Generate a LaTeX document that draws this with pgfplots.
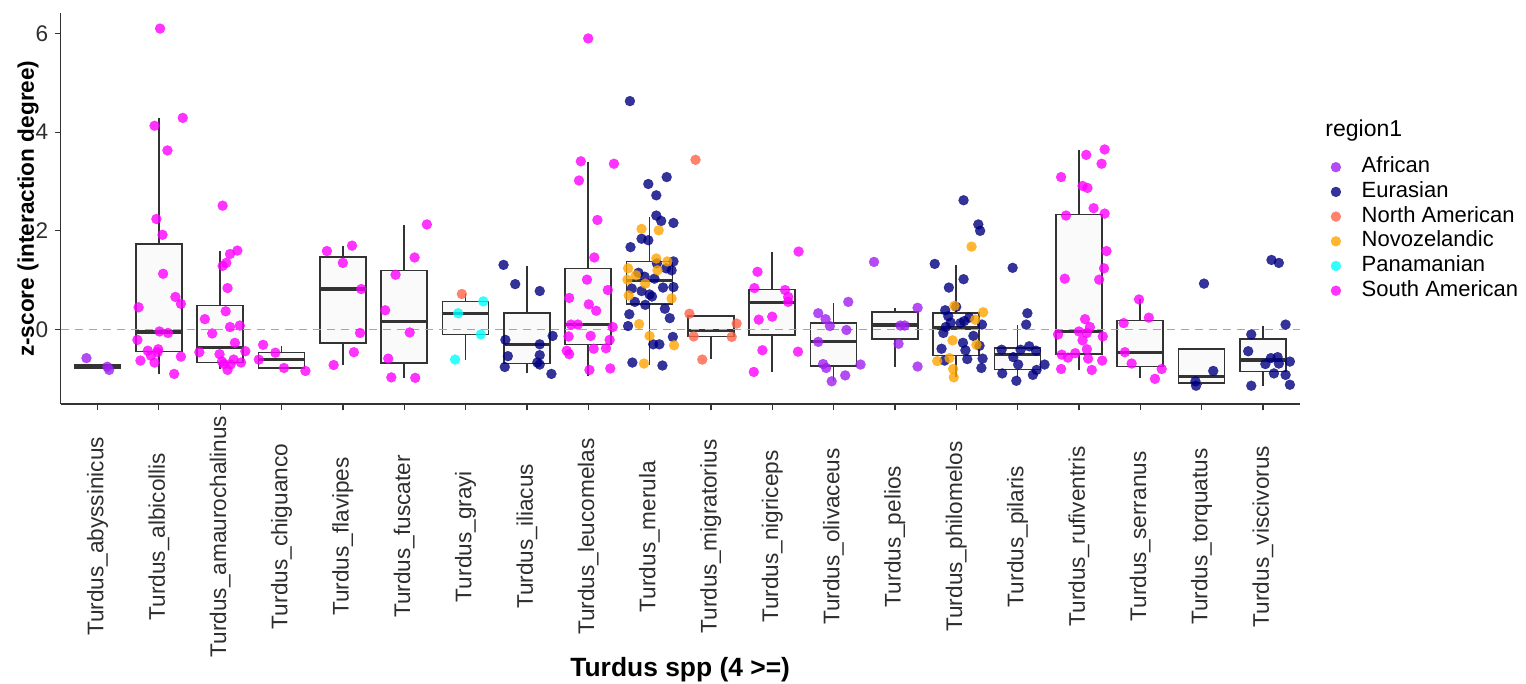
\documentclass[border=0pt]{standalone}
\usepackage{pgfplots}
\pgfplotsset{compat=1.18}
\usepgfplotslibrary{statistics}
\usepackage{fontspec}
\setmainfont{Liberation Sans}
\definecolor{cAf}{HTML}{A020F0}
\definecolor{cEu}{HTML}{000080}
\definecolor{cNA}{HTML}{FF6347}
\definecolor{cNZ}{HTML}{FFA500}
\definecolor{cPa}{HTML}{00FFFF}
\definecolor{cSA}{HTML}{FF00FF}
\definecolor{boxline}{HTML}{333333}
\definecolor{ticktext}{HTML}{2E2E2E}
\newcommand{\bx}[6]{\addplot[forget plot, draw=boxline, fill=black!2, line width=0.75pt,
  boxplot prepared={draw position=#1, lower whisker=#2, lower quartile=#3, median=#4,
  upper quartile=#5, upper whisker=#6, box extend=0.75, whisker extend=0}] coordinates {};}
\pgfplotsset{pts/.style={only marks, mark=*, mark size=2.5pt, color=#1,
  mark options={fill=#1, draw=#1, fill opacity=0.8, draw opacity=0.8, line width=0.1pt}}}
\begin{document}
\begin{tikzpicture}
\begin{axis}[
  at={(0,0)}, anchor=south west,
  width=619.5pt, height=195.35pt, scale only axis,
  xmin=-0.6, xmax=19.6, ymin=-1.51, ymax=6.41,
  clip=false,
  axis x line=bottom, axis y line=left,
  axis line style={-, draw=boxline, line width=0.65pt},
  tick align=outside, major tick length=2.75pt,
  tick style={draw=boxline, line width=0.65pt},
  boxplot/draw direction=y,
  boxplot/every median/.style={line width=1.6pt},
  xtick={0,...,19},
  xticklabels={Turdus\_abyssinicus, Turdus\_albicollis, Turdus\_amaurochalinus, Turdus\_chiguanco, Turdus\_flavipes, Turdus\_fuscater, Turdus\_grayi, Turdus\_iliacus, Turdus\_leucomelas, Turdus\_merula, Turdus\_migratorius, Turdus\_nigriceps, Turdus\_olivaceus, Turdus\_pelios, Turdus\_philomelos, Turdus\_pilaris, Turdus\_rufiventris, Turdus\_serranus, Turdus\_torquatus, Turdus\_viscivorus},
  xticklabel style={font=\fontsize{11.3}{13}\selectfont, text=ticktext, yshift=-63.5pt, rotate=90, anchor=center},
  ytick={0,2,4,6},
  yticklabel style={font=\fontsize{11.3}{13}\selectfont, text=ticktext},
  /pgf/number format/assume math mode=true,
  every axis x label/.style={at={(axis description cs:0.5,0)}, yshift=-133pt, anchor=center, font=\bfseries\fontsize{13.2}{15}\selectfont},
  every axis y label/.style={at={(axis description cs:0,0.5)}, xshift=-16.35pt, rotate=90, anchor=center, font=\bfseries\fontsize{11.3}{13}\selectfont},
  xlabel={Turdus spp (4 >=)},
  ylabel={z-score (interaction degree)},
  legend cell align=left,
  legend image code/.code={\draw[mark repeat=2,mark phase=2,#1] plot coordinates {(0cm,0cm) (0.15cm,0cm) (0.3cm,0cm)};},
  legend style={at={(axis description cs:1,1)}, anchor=north west, xshift=15.4pt, yshift=-71.5pt,
    draw=none, fill=none, inner sep=0pt, row sep=1.85pt,
    font=\fontsize{11}{13}\selectfont,
    nodes={inner sep=0pt, text height=8pt, text depth=2.5pt},
    /tikz/every odd column/.append style={column sep=10.4pt}},
]
\bx{0}{-0.80}{-0.78}{-0.75}{-0.72}{-0.70}
\bx{1}{-0.90}{-0.45}{-0.05}{1.73}{4.28}
\bx{2}{-0.80}{-0.67}{-0.36}{0.49}{1.59}
\bx{3}{-0.80}{-0.78}{-0.60}{-0.47}{-0.33}
\bx{4}{-0.71}{-0.27}{0.82}{1.47}{1.69}
\bx{5}{-0.99}{-0.68}{0.17}{1.20}{2.12}
\bx{6}{-0.61}{-0.10}{0.32}{0.57}{0.71}
\bx{7}{-0.89}{-0.69}{-0.30}{0.33}{1.29}
\bx{8}{-0.94}{-0.30}{0.10}{1.24}{3.40}
\bx{9}{-0.71}{0.52}{0.99}{1.38}{2.29}
\bx{10}{-0.60}{-0.14}{-0.02}{0.27}{0.30}
\bx{11}{-0.86}{-0.11}{0.55}{0.81}{1.58}
\bx{12}{-1.04}{-0.74}{-0.25}{0.13}{0.54}
\bx{13}{-0.75}{-0.19}{0.09}{0.35}{0.44}
\bx{14}{-0.96}{-0.53}{0.03}{0.33}{1.31}
\bx{15}{-0.97}{-0.81}{-0.50}{-0.37}{0.09}
\bx{16}{-0.82}{-0.50}{-0.04}{2.33}{3.64}
\bx{17}{-0.99}{-0.75}{-0.46}{0.18}{0.62}
\bx{18}{-1.12}{-1.08}{-0.95}{-0.40}{-0.40}
\bx{19}{-1.14}{-0.85}{-0.62}{-0.19}{0.08}
\addplot[forget plot, color=black!35, line width=0.7pt, dash pattern=on 4pt off 3pt] coordinates {(-0.6,0) (19.6,0)};
% African
\addplot[pts=cAf] coordinates {
(-0.18,-0.58) (0.16,-0.755) (0.19,-0.82)
(12.24,0.56) (11.75,0.33) (11.87,0.21) (11.94,0.07) (12.21,-0.01) (11.75,-0.25) (12.44,-0.71) (11.83,-0.70) (11.88,-0.78) (12.19,-0.93) (11.97,-1.05)
(12.66,1.37) (13.37,0.44) (13.09,0.08) (13.16,0.08) (13.06,-0.29) (13.37,-0.75)
};
\addlegendentry{African}
% Eurasian
\addplot[pts=cEu] coordinates {
(6.62,1.31) (6.81,0.92) (7.21,0.78) (7.42,-0.13) (6.65,-0.21) (7.21,-0.30) (6.69,-0.54) (7.21,-0.52) (6.64,-0.76) (7.17,-0.67) (7.21,-0.71) (7.40,-0.90)
(8.68,4.63) (8.98,2.95) (9.28,3.09) (9.11,2.72) (9.11,2.31) (9.19,2.20) (9.39,2.16) (8.87,1.84) (8.98,1.81) (8.69,1.67) (9.12,1.34) (9.39,1.38) (8.82,1.15) (9.27,1.24) (9.36,1.20) (8.92,1.07) (9.08,1.03) (8.71,0.83) (8.87,0.78) (9.22,0.85) (9.39,0.86) (9.00,0.71) (9.04,0.67) (8.76,0.56) (8.93,0.50) (9.25,0.42) (8.67,0.31) (9.33,0.23) (8.65,0.07) (9.38,-0.15) (9.06,-0.30) (9.16,-0.30) (8.72,-0.67) (9.21,-0.73)
(14.12,2.62) (14.36,2.13) (14.39,2.00) (13.65,1.33) (14.12,1.02) (13.88,0.85) (14.00,0.46) (13.82,0.39) (13.87,0.27) (14.21,0.24) (13.91,0.14) (14.07,0.13) (14.13,0.17) (14.42,0.10) (13.83,0.05) (13.79,-0.07) (14.28,-0.13) (14.11,-0.27) (14.38,-0.33) (13.76,-0.39) (14.15,-0.42) (14.18,-0.60) (14.43,-0.59) (13.81,-0.63) (14.41,-0.78)
(14.92,1.25) (15.16,0.33) (15.14,0.10) (14.74,-0.41) (15.05,-0.41) (15.19,-0.34) (15.30,-0.43) (14.93,-0.56) (15.01,-0.71) (15.44,-0.71) (15.31,-0.82) (14.75,-0.89) (15.25,-0.92) (14.98,-1.04)
(18.04,0.93) (18.19,-0.84) (17.90,-1.05) (17.91,-1.14)
(19.14,1.41) (19.26,1.35) (19.37,0.10) (18.81,-0.10) (18.76,-0.44) (19.13,-0.58) (19.24,-0.56) (19.04,-0.70) (19.26,-0.69) (19.44,-0.65) (19.18,-0.89) (19.37,-0.92) (18.81,-1.14) (19.44,-1.12)
};
\addlegendentry{Eurasian}
% North American
\addplot[pts=cNA] coordinates {
(5.94,0.72)
(9.75,3.44) (9.65,0.32) (10.42,0.12) (9.72,-0.14) (10.34,-0.15) (9.86,-0.61)
};
\addlegendentry{North American}
% Novozelandic
\addplot[pts=cNZ] coordinates {
(8.87,2.04) (9.15,2.01) (9.11,1.44) (9.29,1.38) (8.65,1.24) (9.13,1.20) (8.64,1.01) (8.78,1.10) (8.93,0.93) (8.66,0.69) (9.36,0.63) (8.83,0.11) (9.00,-0.13) (9.40,-0.32) (8.91,-0.69)
(14.25,1.68) (13.97,0.48) (14.44,0.35) (14.31,0.20) (13.94,-0.22) (14.33,-0.31) (13.89,-0.58) (13.69,-0.64) (13.95,-0.80) (13.96,-0.97)
};
\addlegendentry{Novozelandic}
% Panamanian
\addplot[pts=cPa] coordinates {
(6.29,0.57) (5.88,0.33) (6.25,-0.10) (5.83,-0.61)
};
\addlegendentry{Panamanian}
% South American
\addplot[pts=cSA] coordinates {
(1.02,6.10) (0.93,4.13) (1.39,4.29) (1.14,3.63) (0.96,2.24) (1.06,1.92) (1.07,1.13) (0.67,0.45) (1.27,0.66) (1.36,0.52) (1.01,-0.04) (1.15,-0.07) (0.65,-0.21) (0.82,-0.43) (0.99,-0.40) (0.87,-0.53) (0.98,-0.46) (0.70,-0.63) (0.93,-0.67) (1.36,-0.55) (1.25,-0.90)
(2.04,2.51) (2.16,1.53) (2.28,1.60) (2.04,1.29) (2.10,1.35) (2.12,0.84) (2.09,0.37) (1.75,0.21) (1.87,-0.08) (2.16,0.05) (2.32,0.08) (2.24,-0.27) (1.66,-0.46) (1.99,-0.50) (2.41,-0.44) (2.03,-0.65) (2.22,-0.61) (2.34,-0.67) (2.12,-0.82) (2.17,-0.71) (2.06,-0.70)
(2.70,-0.31) (2.90,-0.47) (2.63,-0.61) (3.04,-0.78) (3.39,-0.84)
(3.74,1.59) (4.15,1.70) (4.00,1.35) (4.30,0.82) (4.28,-0.07) (4.18,-0.46) (3.85,-0.72)
(5.37,2.13) (5.17,1.46) (4.86,1.11) (4.69,0.39) (5.09,-0.06) (4.74,-0.59) (4.79,-0.97) (5.18,-0.98)
(8.00,5.90) (7.88,3.41) (8.42,3.36) (7.85,3.02) (8.15,2.22) (8.10,1.46) (7.98,1.01) (8.32,0.80) (7.69,0.64) (8.01,0.51) (8.13,0.38) (7.72,0.10) (7.83,0.10) (8.40,0.05) (7.68,-0.14) (8.04,-0.13) (8.35,-0.21) (8.09,-0.39) (8.29,-0.38) (7.65,-0.43) (7.69,-0.50) (8.02,-0.82) (8.36,-0.79)
(11.43,1.58) (10.76,1.17) (10.71,0.84) (11.21,0.80) (11.26,0.66) (11.26,0.56) (11.00,0.26) (10.78,0.20) (10.84,-0.42) (11.42,-0.45) (10.70,-0.86)
(16.42,3.65) (16.12,3.54) (16.37,3.36) (15.71,3.09) (16.06,2.91) (16.14,2.87) (16.24,2.46) (16.42,2.35) (15.79,2.31) (16.45,1.59) (16.41,1.24) (15.77,1.03) (16.33,1.01) (16.10,0.21) (16.18,0.05) (15.66,-0.10) (16.00,-0.04) (16.13,-0.07) (16.39,-0.14) (16.06,-0.22) (16.13,-0.40) (15.72,-0.51) (15.94,-0.48) (15.82,-0.57) (16.15,-0.59) (16.38,-0.63) (15.71,-0.80) (16.21,-0.82)
(16.98,0.61) (17.14,0.24) (16.73,0.13) (16.75,-0.46) (16.86,-0.69) (17.35,-0.80) (17.24,-1.00)
};
\addlegendentry{South American}
\node[anchor=west, inner sep=0pt, font=\fontsize{11.5}{13}\selectfont] at (rel axis cs:1,1) [xshift=12.65pt, yshift=-58.85pt] {region1};
\end{axis}
\pgfresetboundingbox
\path[use as bounding box] (-30.35pt,-140pt) rectangle (732.65pt,202pt);
\end{tikzpicture}
\end{document}
